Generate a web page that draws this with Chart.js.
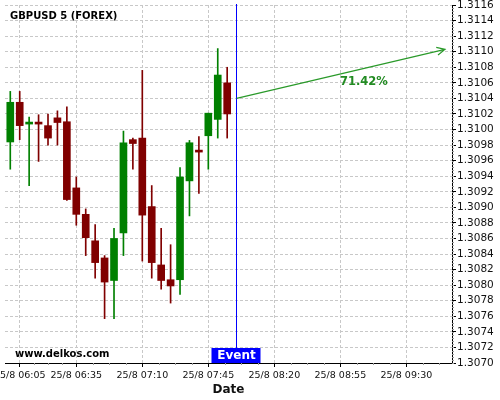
<!DOCTYPE html>
<html>
<head>
<meta charset="utf-8">
<title>GBPUSD 5 (FOREX)</title>
<script src="https://cdn.jsdelivr.net/npm/chart.js@4.4.1/dist/chart.umd.min.js"></script>
<style>
    html, body { margin: 0; padding: 0; background: #fff; }
</style>
</head>
<body>
<canvas id="fxChart" width="500" height="400"></canvas>
<script>
// candle data, 5 minute bars starting 25/8 06:00
const opens  = [1.30984, 1.31035, 1.31007, 1.31008, 1.31005, 1.31015, 1.31010, 1.30925,
                1.30891, 1.30857, 1.30835, 1.30806, 1.30867, 1.30987, 1.30989, 1.30901,
                1.30826, 1.30807, 1.30807, 1.30934, 1.30972, 1.30992, 1.31013, 1.31060];
const highs  = [1.31049, 1.31049, 1.31016, 1.31019, 1.31020, 1.31024, 1.31029, 1.30939,
                1.30898, 1.30878, 1.30838, 1.30873, 1.30998, 1.30989, 1.31076, 1.30928,
                1.30873, 1.30852, 1.30951, 1.30986, 1.30991, 1.31021, 1.31104, 1.31080];
const lows   = [1.30949, 1.30987, 1.30928, 1.30959, 1.30980, 1.30980, 1.30909, 1.30877,
                1.30838, 1.30809, 1.30757, 1.30757, 1.30838, 1.30949, 1.30831, 1.30809,
                1.30795, 1.30777, 1.30788, 1.30889, 1.30918, 1.30949, 1.30989, 1.30989];
const closes = [1.31035, 1.31005, 1.31008, 1.31007, 1.30989, 1.31009, 1.30910, 1.30891,
                1.30861, 1.30829, 1.30804, 1.30860, 1.30983, 1.30982, 1.30890, 1.30829,
                1.30806, 1.30799, 1.30939, 1.30983, 1.30971, 1.31021, 1.31070, 1.31020];

// x axis labels (bar index -> label)
const tickIdx    = [1, 7, 14, 21, 28, 35, 42];
const tickLabels = ["25/8 06:05", "25/8 06:35", "25/8 07:10", "25/8 07:45",
                    "25/8 08:20", "25/8 08:55", "25/8 09:30"];

// event + forecast
const eventIdx = 24;
const arrowFrom = { x: 24, y: 1.31040 };
const arrowTo = { x: 46.1, y: 1.31103 };
const forecastText = "71.42%";
const forecastAt = { x: 37.5, y: 1.31061 };

const GREEN = "#008000";
const RED = "#800000";
const candleColors = opens.map((o, i) => (closes[i] >= o ? GREEN : RED));

const overlay = {
    id: "overlay",
    afterDatasetsDraw(chart) {
        const { ctx, chartArea, scales } = chart;
        const xs = scales.x, ys = scales.y;
        ctx.save();

        // small minor ticks on both axes
        ctx.strokeStyle = "#999";
        ctx.lineWidth = 1;
        ctx.beginPath();
        for (let v = ys.min; v < ys.max; v += 0.00004) {
            const py = Math.round(ys.getPixelForValue(v)) + 0.5;
            ctx.moveTo(chartArea.right, py);
            ctx.lineTo(chartArea.right + 2, py);
        }
        for (let k = 0; k < tickIdx.length; k++) {
            const a = tickIdx[k];
            const b = k + 1 < tickIdx.length ? tickIdx[k + 1] : a + 7;
            for (let q = 1; q < 4; q++) {
                const px = Math.round(xs.getPixelForValue(a + (b - a) * q / 4)) + 0.5;
                if (px > chartArea.right) continue;
                ctx.moveTo(px, chartArea.bottom);
                ctx.lineTo(px, chartArea.bottom + 2);
            }
        }
        ctx.stroke();

        // title + watermark
        ctx.fillStyle = "#000";
        ctx.font = "bold 10px 'DejaVu Sans'";
        ctx.textAlign = "left";
        ctx.textBaseline = "alphabetic";
        ctx.fillText("GBPUSD 5 (FOREX)", 10, 19);
        ctx.fillText("www.delkos.com", 15, 357);

        // event line and box
        const ex = Math.round(xs.getPixelForValue(eventIdx)) - 0.5;
        const boxTop = chartArea.bottom - 15;
        ctx.strokeStyle = "#0000ff";
        ctx.lineWidth = 1;
        ctx.beginPath();
        ctx.moveTo(ex, chartArea.top - 1);
        ctx.lineTo(ex, boxTop);
        ctx.stroke();
        ctx.fillStyle = "#0000ff";
        ctx.fillRect(ex - 25, boxTop, 49, 15);
        ctx.fillStyle = "#fff";
        ctx.font = "bold 12px 'DejaVu Sans'";
        ctx.textAlign = "center";
        ctx.textBaseline = "middle";
        ctx.fillText("Event", ex, boxTop + 8);

        // forecast arrow
        const x1 = xs.getPixelForValue(arrowFrom.x), y1 = ys.getPixelForValue(arrowFrom.y);
        const x2 = xs.getPixelForValue(arrowTo.x), y2 = ys.getPixelForValue(arrowTo.y);
        const ang = Math.atan2(y2 - y1, x2 - x1);
        ctx.strokeStyle = "#2a9a2a";
        ctx.lineWidth = 1.2;
        ctx.beginPath();
        ctx.moveTo(x1, y1);
        ctx.lineTo(x2, y2);
        ctx.moveTo(x2 - 9 * Math.cos(ang - 0.45), y2 - 9 * Math.sin(ang - 0.45));
        ctx.lineTo(x2, y2);
        ctx.lineTo(x2 - 9 * Math.cos(ang + 0.45), y2 - 9 * Math.sin(ang + 0.45));
        ctx.stroke();

        ctx.fillStyle = "#228b22";
        ctx.font = "bold 11.5px 'DejaVu Sans'";
        ctx.fillText(forecastText, xs.getPixelForValue(forecastAt.x), ys.getPixelForValue(forecastAt.y));
        ctx.restore();
    }
};

const ctx = document.getElementById("fxChart").getContext("2d");

const fxChart = new Chart(ctx, {
    type: "bar",
    data: {
        datasets: [
            {
                label: "wick",
                data: highs.map((h, i) => ({ x: i, y: [lows[i], h] })),
                backgroundColor: candleColors,
                barThickness: 1,
                grouped: false,
                order: 2,
            },
            {
                label: "body",
                data: opens.map((o, i) => ({ x: i, y: [o, closes[i]] })),
                backgroundColor: candleColors,
                barThickness: 7,
                minBarLength: 2,
                grouped: false,
                order: 1,
            },
        ],
    },
    options: {
        responsive: false,
        animation: false,
        layout: { padding: { top: 5, left: 5, right: 0, bottom: 0 } },
        plugins: {
            legend: { display: false },
            tooltip: { enabled: false },
        },
        scales: {
            x: {
                type: "linear",
                offset: false,
                min: -0.56,
                max: 46.84,
                afterBuildTicks: (scale) => {
                    scale.ticks = tickIdx.map((v) => ({ value: v }));
                },
                afterFit: (scale) => {
                    scale.height = 37;
                    scale.paddingLeft = 0;
                    scale.paddingRight = 0;
                },
                ticks: {
                    autoSkip: false,
                    maxRotation: 0,
                    padding: 3,
                    color: "#111",
                    font: { family: "'DejaVu Sans'", size: 9.5 },
                    callback: (v, i) => tickLabels[i],
                },
                grid: {
                    offset: false,
                    color: "#c8c8c8",
                    tickColor: "#000",
                    tickLength: 4,
                },
                border: { color: "#000", width: 1, dash: [3, 2] },
                title: {
                    display: true,
                    text: "Date",
                    color: "#111",
                    font: { family: "'DejaVu Sans'", size: 12, weight: "bold" },
                    padding: { top: 0, bottom: 3 },
                },
            },
            y: {
                position: "right",
                min: 1.307,
                max: 1.3116,
                afterFit: (scale) => {
                    scale.width = 48;
                    scale.paddingTop = 0;
                    scale.paddingBottom = 0;
                },
                ticks: {
                    stepSize: 0.0002,
                    autoSkip: false,
                    padding: 1,
                    color: "#111",
                    font: { family: "'DejaVu Sans'", size: 10.5 },
                    callback: (v) => v.toFixed(4),
                },
                grid: {
                    color: "#c8c8c8",
                    tickColor: "#000",
                    tickLength: 4,
                },
                border: { color: "#000", width: 1, dash: [3, 2] },
            },
        },
    },
    plugins: [overlay],
});
</script>
</body>
</html>
